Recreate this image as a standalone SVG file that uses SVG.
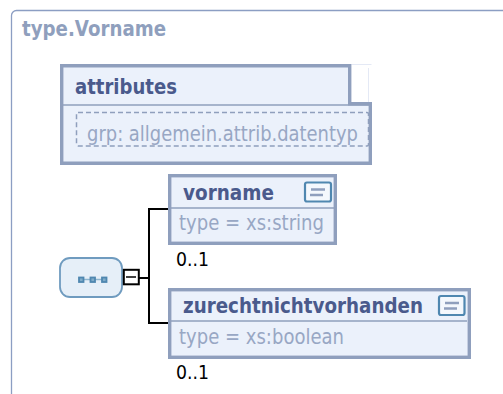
<svg xmlns="http://www.w3.org/2000/svg" width="503" height="394" viewBox="0 0 503 394">
<style>
text{font-family:"DejaVu Sans",Verdana,sans-serif}
.box{fill:#ebf1fb;stroke:#8f9fbd;stroke-width:3.4}
.sep{stroke:#8f9fbd;stroke-width:1.6;fill:none}
.name{font-weight:700;font-size:20.5px;fill:#4a5a8c}
.sub{font-size:20.5px;fill:#98a7c4}
.occ{font-size:19px;fill:#000}
.icon{fill:#f4f8fd;stroke:#4f87b0;stroke-width:2.2}
.bar{stroke:#8f9fbd;stroke-width:2.4}
.con{stroke:#000;stroke-width:2;fill:none}
</style>
<g id="frame">
<path d="M503 10.500H16.500a5 5 0 0 0-5 5V394" fill="#fff" stroke="#8c9ec3" stroke-width="1.300"/>
<text x="22" y="36" font-size="21" font-weight="700" fill="#8f9fbd" textLength="144" lengthAdjust="spacingAndGlyphs">type.Vorname</text>
</g>
<g id="attributes">
<path d="M351.500 64.500H371.500M368.500 68V102" fill="none" stroke="#e4e9f5" stroke-width="1"/>
<path class="box" d="M61.700 65.700H349.700V103.700H370.300V163.300H61.700Z"/>
<path class="sep" d="M63 105H369"/>
<rect x="76.500" y="112.500" width="292" height="33.500" rx="1.500" fill="none" stroke="#8f9fbd" stroke-width="1.500" stroke-dasharray="5 3"/>
<text class="name" x="75" y="94" textLength="102" lengthAdjust="spacingAndGlyphs">attributes</text>
<text class="sub" x="87" y="141" textLength="271" lengthAdjust="spacingAndGlyphs">grp: allgemein.attrib.datentyp</text>
</g>
<g id="connectors">
<path class="con" d="M139 278H149M149 209V323M148 209H169M148 323H169"/>
</g>
<g id="sequence">
<rect x="60" y="258" width="62" height="39" rx="10" fill="#e6eff8" stroke="#6f9bbf" stroke-width="1.800"/>
<path d="M80 279.500H106" stroke="#8fb6d0" stroke-width="1.500"/>
<rect x="79" y="277.500" width="4.500" height="4.500" fill="#7fabc9" stroke="#4f87b0" stroke-width="1.800"/>
<rect x="90.500" y="277.500" width="4.500" height="4.500" fill="#7fabc9" stroke="#4f87b0" stroke-width="1.800"/>
<rect x="102" y="277.500" width="4.500" height="4.500" fill="#7fabc9" stroke="#4f87b0" stroke-width="1.800"/>
<rect x="123.800" y="269.800" width="15" height="14.500" fill="#fff" stroke="#000" stroke-width="2"/>
<path d="M126 277H136" stroke="#000" stroke-width="1.500"/>
</g>
<g id="vorname">
<rect class="box" x="169.700" y="175.700" width="165.600" height="67.600"/>
<path class="sep" d="M171 208H334"/>
<rect class="icon" x="305" y="182.500" width="26" height="19" rx="2"/>
<path class="bar" d="M311 189.500H325M310 195H323"/>
<text class="name" x="183" y="200" textLength="91" lengthAdjust="spacingAndGlyphs">vorname</text>
<text class="sub" x="179" y="230" textLength="145" lengthAdjust="spacingAndGlyphs">type  = xs:string</text>
<text class="occ" x="176" y="266" textLength="33" lengthAdjust="spacingAndGlyphs">0..1</text>
</g>
<g id="zurechtnichtvorhanden">
<rect class="box" x="169.700" y="289.700" width="299.600" height="67.600"/>
<path class="sep" d="M171 321H467"/>
<rect class="icon" x="439" y="296" width="25.500" height="19" rx="2"/>
<path class="bar" d="M445 303H459M444 308.500H457"/>
<text class="name" x="183" y="313" textLength="240" lengthAdjust="spacingAndGlyphs">zurechtnichtvorhanden</text>
<text class="sub" x="179" y="344" textLength="165" lengthAdjust="spacingAndGlyphs">type  = xs:boolean</text>
<text class="occ" x="176" y="379" textLength="33" lengthAdjust="spacingAndGlyphs">0..1</text>
</g>
</svg>
